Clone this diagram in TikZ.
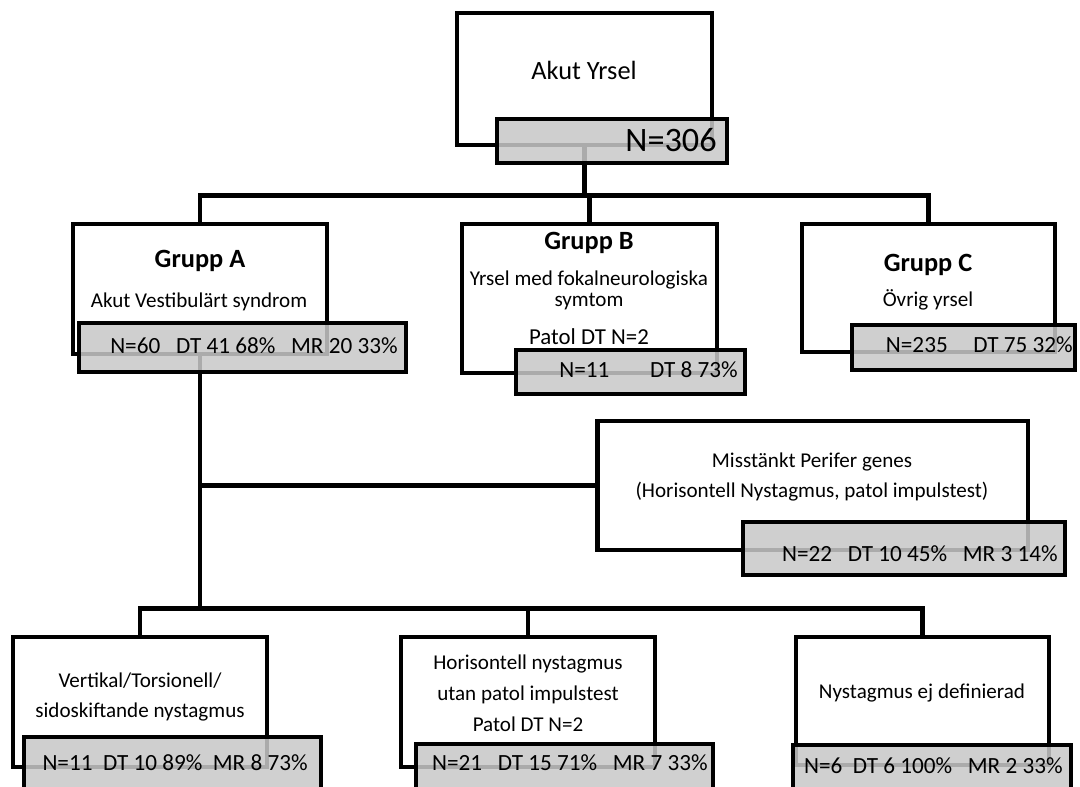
\documentclass[tikz,border=0pt]{standalone}
\usepackage{fontspec}
\setmainfont{Carlito}
\usepackage{tikz}
\definecolor{boxgray}{RGB}{200,200,200}

\begin{document}
\begin{tikzpicture}[x=0.02cm, y=-0.02cm,
    wbox/.style={draw, line width=2.8pt, fill=white, inner sep=0pt},
    nbox/.style={draw, line width=2.8pt, fill=boxgray, fill opacity=0.86, inner sep=0pt},
    link/.style={line width=2.8pt},
    txt/.style={anchor=base, inner sep=0pt, font=\fontsize{12}{14}\selectfont},
    ttl/.style={anchor=base, inner sep=0pt, font=\fontsize{15}{18}\selectfont\bfseries},
    stat/.style={anchor=base east, inner sep=0pt, font=\fontsize{13.2}{16}\selectfont}]
        \useasboundingbox (0,0) rectangle (1080,787);
        \clip (0,0) rectangle (1080,787);
        % white boxes
        \node[wbox, minimum width=5.1cm, minimum height=2.64cm] (yrsel) at (584.5,79) {};
        \node[wbox, minimum width=5.08cm, minimum height=2.6cm] (grpA) at (200,289) {};
        \node[wbox, minimum width=5.1cm, minimum height=2.98cm] (grpB) at (589.5,298.5) {};
        \node[wbox, minimum width=5.06cm, minimum height=2.56cm] (grpC) at (928.5,288) {};
        \node[wbox, minimum width=8.62cm, minimum height=2.58cm] (perif) at (812.5,485.5) {};
        \node[wbox, minimum width=5.08cm, minimum height=2.6cm] (vert) at (140,702) {};
        \node[wbox, minimum width=5.08cm, minimum height=2.6cm] (horis) at (528,702) {};
        \node[wbox, minimum width=5.06cm, minimum height=2.56cm] (odef) at (922.5,701) {};
        % connectors
        \draw[link] (yrsel.south) -- ++(0,48) -| (grpA.north);
        \draw[link] (yrsel.south) -- ++(0,48) -| (grpB.north);
        \draw[link] (yrsel.south) -- ++(0,48) -| (grpC.north);
        \draw[link] (grpA.south) |- (perif.west);
        \draw[link] (grpA.south) -- ++(0,252) -| (vert.north);
        \draw[link] (grpA.south) -- ++(0,252) -| (horis.north);
        \draw[link] (grpA.south) -- ++(0,252) -| (odef.north);
        % grey count boxes
        \node[nbox, minimum width=4.6cm, minimum height=0.88cm] (yrselN) at (612,141) {};
        \node[nbox, minimum width=6.54cm, minimum height=0.98cm] (grpAN) at (242.5,347.5) {};
        \node[nbox, minimum width=4.58cm, minimum height=0.88cm] (grpBN) at (630.5,372) {};
        \node[nbox, minimum width=4.46cm, minimum height=0.9cm] (grpCN) at (963.5,347.5) {};
        \node[nbox, minimum width=6.44cm, minimum height=1.06cm] (perifN) at (904,548.5) {};
        \node[nbox, minimum width=5.94cm, minimum height=1.26cm] (vertN) at (172.5,768.5) {};
        \node[nbox, minimum width=5.94cm, minimum height=1.12cm] (horisN) at (564.5,772) {};
        \node[nbox, minimum width=5.56cm, minimum height=1.1cm] (odefN) at (932,772.5) {};
        % texts
        \node[txt, font=\fontsize{15}{18}\selectfont] (yrselT) at (584,80) {Akut Yrsel};
        \node[stat, font=\fontsize{19.5}{22}\selectfont] (yrselS) at (717,152) {N=306};
        \node[ttl] (grpAT) at (200,268) {Grupp A};
        \node[txt] (grpAU) at (199,308) {Akut Vestibulärt syndrom};
        \node[stat] (grpAS) at (398,354) {N=60\ \ \ DT 41 68\%\ \ \ MR 20 33\%};
        \node[ttl] (grpBT) at (589,250) {Grupp B};
        \node[txt] (grpBU) at (589,286) {Yrsel med fokalneurologiska};
        \node[txt] (grpBV) at (589,307) {symtom};
        \node[txt, font=\fontsize{13}{15}\selectfont] (grpBW) at (589,345) {Patol DT N=2};
        \node[stat] (grpBS) at (738,378) {N=11\hspace{1.75em}DT 8 73\%};
        \node[ttl] (grpCT) at (928,272) {Grupp C};
        \node[txt] (grpCU) at (928,307) {Övrig yrsel};
        \node[stat] (grpCS) at (1073,353) {N=235\hspace{1.1em}DT 75 32\%};
        \node[txt] (perifT) at (812,468) {Misstänkt Perifer genes};
        \node[txt] (perifU) at (812,498) {(Horisontell Nystagmus, patol impulstest)};
        \node[stat] (perifS) at (1058,562) {N=22\ \ \ DT 10 45\%\ \ \ MR 3 14\%};
        \node[txt] (vertT) at (140,687) {Vertikal/Torsionell/};
        \node[txt] (vertU) at (140,718) {sidoskiftande nystagmus};
        \node[stat] (vertS) at (308,770) {N=11\ \ DT 10 89\%\ \ MR 8 73\%};
        \node[txt] (horisT) at (528,669) {Horisontell nystagmus};
        \node[txt] (horisU) at (528,701) {utan patol impulstest};
        \node[txt] (horisV) at (528,731) {Patol DT N=2};
        \node[stat] (horisS) at (708,770) {N=21\ \ \ DT 15 71\%\ \ \ MR 7 33\%};
        \node[txt] (odefT) at (922,699) {Nystagmus ej definierad};
        \node[stat] (odefS) at (1063,773) {N=6\ \ DT 6 100\%\ \ \ MR 2 33\%};
      \end{tikzpicture}
\end{document}
